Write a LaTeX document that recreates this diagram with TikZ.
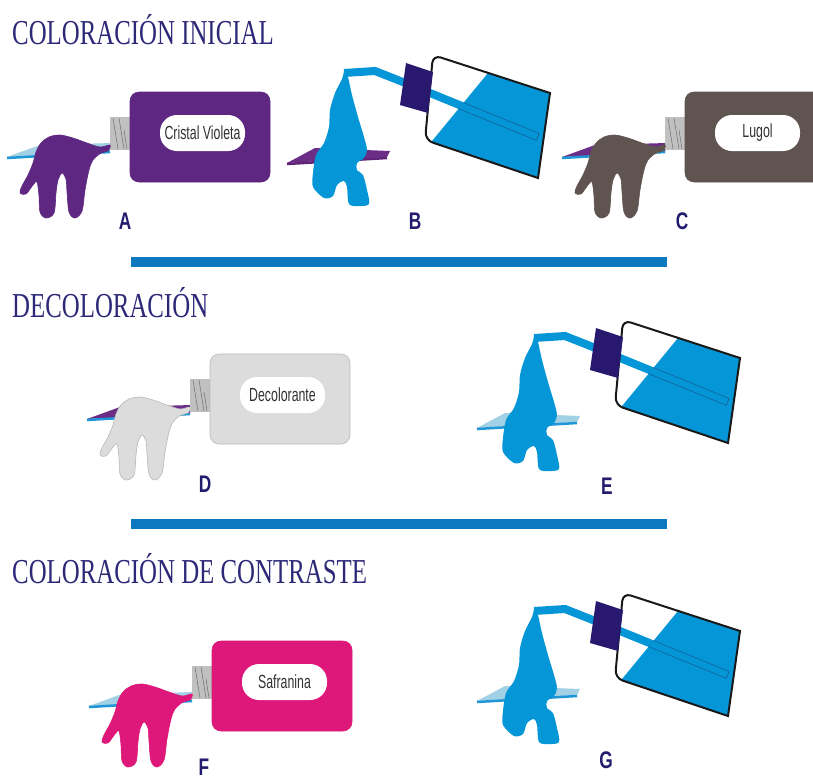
\documentclass[tikz,border=0pt]{standalone}
\usepackage{fontspec}
\newfontfamily\titlefont[FakeStretch=0.71]{Liberation Serif}
\newfontfamily\letterfont[FakeStretch=0.72]{Liberation Sans}
\newfontfamily\pillfont[FakeStretch=0.65]{Liberation Sans}

\definecolor{titlecol}{RGB}{45,40,120}
\definecolor{lettercol}{RGB}{35,28,110}
\definecolor{pilltextcol}{RGB}{50,50,50}
\definecolor{violetA}{RGB}{94,40,130}
\definecolor{brownC}{RGB}{96,84,80}
\definecolor{grayD}{RGB}{220,220,220}
\definecolor{grayDline}{RGB}{185,185,185}
\definecolor{magentaF}{RGB}{222,24,122}
\definecolor{slideblue}{RGB}{162,208,228}
\definecolor{slideedge}{RGB}{30,150,215}
\definecolor{slidepurple}{RGB}{108,45,135}
\definecolor{slidepurpleedge}{RGB}{95,35,120}
\definecolor{liquid}{RGB}{5,150,216}
\definecolor{tubeedge}{RGB}{20,95,150}
\definecolor{capcol}{RGB}{40,25,110}
\definecolor{barcol}{RGB}{12,120,192}
\definecolor{nozzlecol}{RGB}{192,192,192}
\definecolor{nozzleline}{RGB}{110,110,110}
\definecolor{bottleline}{RGB}{25,25,25}

\tikzset{
  pilltext/.style={font=\pillfont\fontsize{19}{19}\selectfont, text=pilltextcol, inner sep=0pt},
  steplabel/.style={font=\letterfont\bfseries\fontsize{24}{24}\selectfont, text=lettercol, inner sep=0pt},
  sectiontitle/.style={font=\titlefont\fontsize{35}{35}\selectfont, text=titlecol, anchor=base west, inner sep=0pt},
  sectionbar/.style={line width=10pt, barcol},
}

% Dropper bottle dripping stain onto a slide.
% #1 position of the body's top-left corner, #2 body colour, #3 slide top colour,
% #4 outline colour, #5 bottle label, #6 node name
\newcommand\dropperunit[6]{%
\begin{scope}[shift={#1}]
  \fill[#3] (-123,65) -- (-90,53) -- (-18,51) -- (-20,60) -- cycle;
  \draw[slideedge, line width=2.5pt] (-123,66) -- (-20,60);
  \fill[nozzlecol] (-20,25) rectangle (2,58);
  \draw[nozzleline, line width=0.5pt] (-17,26) -- (-12,57) (-11,26) -- (-6,57) (-6,38) -- (-3,57);
  \filldraw[fill=#2, draw=#4, line width=0.6pt, rounded corners=9pt] (0,0) rectangle (140,90);
  \fill[white, rounded corners=17pt] (30,23) rectangle (115,59);
  \node[pilltext] (#6) at (72.5,41) {#5};
  \filldraw[fill=#2, draw=#4, line width=0.6pt] plot[smooth cycle, tension=0.55] coordinates {
    (-20,53) (-30,55) (-43,51) (-57,46) (-70,43) (-81,45) (-89,51) (-94,60)
    (-97,71) (-102,83) (-108,94) (-110,101) (-104,102) (-97,93) (-93,90)
    (-91,104) (-90,120) (-84,126) (-76,121) (-74,101) (-72,88) (-68,81)
    (-64,87) (-63,100) (-61,120) (-55,126) (-48,119) (-45,98) (-41,78)
    (-37,68) (-29,61) (-22,59)};
\end{scope}}

% Tilted wash bottle rinsing a slide.
% #1 position of the bottle's top-left corner, #2 slide top colour, #3 slide edge colour
\newcommand\washunit[3]{%
\begin{scope}[shift={#1}]
  \fill[#2] (-146,108) -- (-118,93) -- (-43,96) -- (-46,102) -- cycle;
  \draw[#3, line width=2.5pt] (-146,109) -- (-46,103);
  \draw[liquid, line width=8pt, line join=miter] (-89,18) -- (-58,16) -- (-20,31);
  \fill[liquid] plot[smooth cycle, tension=0.5] coordinates {
    (-88,14) (-85,22) (-81,40) (-75,62) (-69,82) (-66,95) (-69,103)
    (-76,108) (-76,115) (-70,120) (-66,135) (-64,149) (-74,151) (-84,149)
    (-86,132) (-89,126) (-96,130) (-100,141) (-109,143) (-120,132)
    (-120,118) (-117,100) (-109,88) (-104,72) (-103,55) (-98,38) (-91,24)};
  \fill[white] (117,38) [rounded corners=8pt] -- (0,0) -- (-8,85) [sharp corners] -- (105,123) -- cycle;
  \begin{scope}
    \clip (117,38) [rounded corners=8pt] -- (0,0) -- (-8,85) [sharp corners] -- (105,123) -- cycle;
    \draw[liquid, line width=8pt] (-30,27) -- (105,82);
    \begin{scope}
      \clip (55,18) -- (140,40) -- (140,140) -- (-10,97) -- cycle;
      \fill[liquid] (55,18) -- (140,40) -- (140,140) -- (-10,97) -- cycle;
      \draw[tubeedge, line width=8pt] (-30,27) -- (105,82);
      \draw[liquid, line width=6.6pt] (-30,27) -- (104.3,81.7);
    \end{scope}
  \end{scope}
  \draw[bottleline, line width=2pt] (117,38) [rounded corners=8pt] -- (0,0) -- (-8,85) [sharp corners] -- (105,123) -- cycle;
  \fill[capcol] (-27,8) -- (0,17) -- (-5,58) -- (-33,50) -- cycle;
\end{scope}}

\begin{document}
\begin{tikzpicture}[x=1pt, y=-1pt]
  \useasboundingbox (0,0) rectangle (813,780);
  \fill[white] (0,0) rectangle (813,780);
  \clip (0,0) rectangle (813,780);

  % section titles
  \node[sectiontitle] (t1) at (12,44) {COLORACIÓN INICIAL};
  \node[sectiontitle] (t2) at (12,317) {DECOLORACIÓN};
  \node[sectiontitle] (t3) at (12,583) {COLORACIÓN DE CONTRASTE};

  % separators
  \coordinate (bar1a) at (131,262);
  \coordinate (bar1b) at (667,262);
  \coordinate (bar2a) at (131,524);
  \coordinate (bar2b) at (667,524);
  \draw[sectionbar] (bar1a) -- (bar1b);
  \draw[sectionbar] (bar2a) -- (bar2b);

  % initial staining
  \dropperunit{(130,92)}{violetA}{slideblue}{violetA}{Cristal Violeta}{cv}
  \washunit{(433,55)}{slidepurple}{slidepurpleedge}
  \dropperunit{(685,92)}{brownC}{slidepurple}{brownC}{Lugol}{lugol}

  % decolouring
  \dropperunit{(210,354)}{grayD}{slidepurple}{grayDline}{Decolorante}{decol}
  \washunit{(623,320)}{slideblue}{slideedge}

  % counterstain
  \dropperunit{(212,641)}{magentaF}{slideblue}{magentaF}{Safranina}{safr}
  \washunit{(623,593)}{slideblue}{slideedge}

  % step letters
  \node[steplabel] (lA) at (125,221) {A};
  \node[steplabel] (lB) at (415,221) {B};
  \node[steplabel] (lC) at (682,221) {C};
  \node[steplabel] (lD) at (205,484) {D};
  \node[steplabel] (lE) at (607,486) {E};
  \node[steplabel] (lF) at (204,767) {F};
  \node[steplabel] (lG) at (606,760) {G};
\end{tikzpicture}
\end{document}
